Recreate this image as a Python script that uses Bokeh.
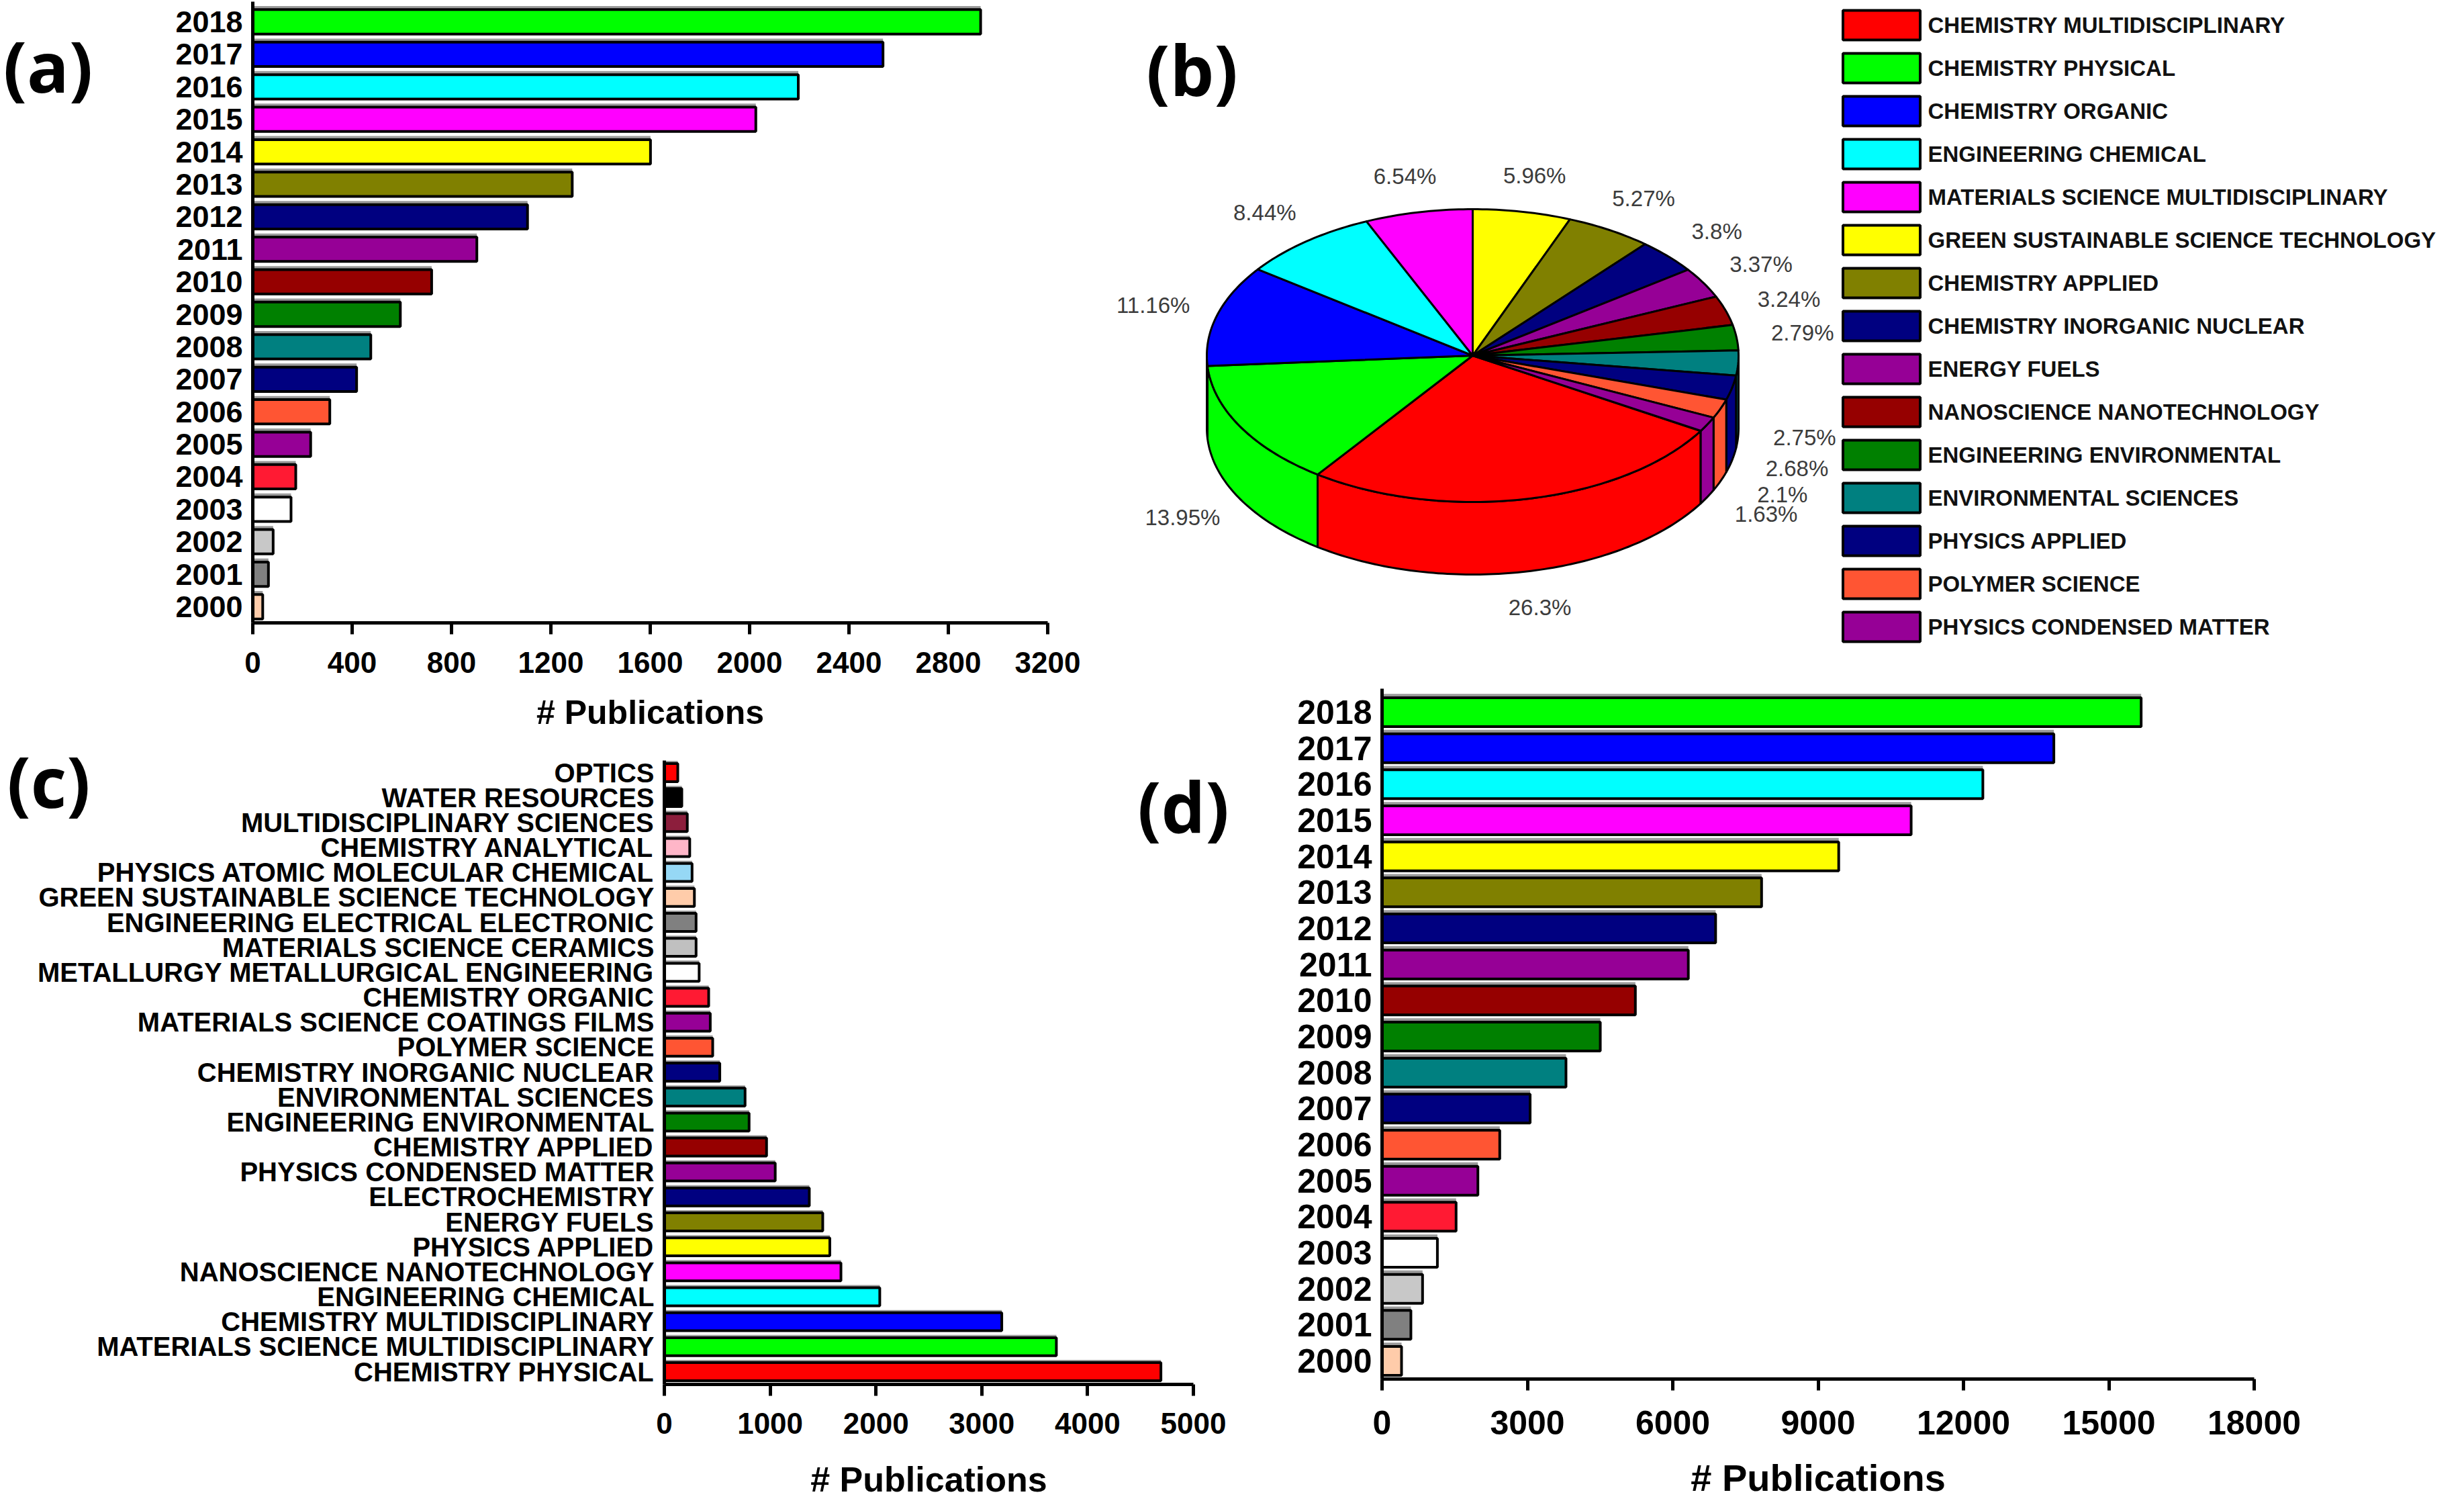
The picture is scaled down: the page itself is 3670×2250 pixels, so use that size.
import math
from bokeh.core.properties import value
from bokeh.embed import file_html
from bokeh.layouts import column, row
from bokeh.models import ColumnDataSource, FixedTicker, Range1d, SingleIntervalTicker
from bokeh.plotting import figure
from bokeh.resources import INLINE
from bokeh.transform import dodge

# ---- data (bottom of the axis first) ----
years = [str(y) for y in range(2000, 2019)]
year_colors = ["#FFCCAA", "#808080", "#C8C8C8", "#FFFFFF", "#FF1A33", "#960096",
               "#FF5533", "#000080", "#008080", "#008000", "#960000", "#960096",
               "#000080", "#808000", "#FFFF00", "#FF00FF", "#00FFFF", "#0000FF",
               "#00FF00"]
pubs_a = [40, 63, 82, 154, 173, 233, 310, 418, 475, 594, 720, 902, 1106, 1286,
          1601, 2025, 2196, 2537, 2930]
pubs_d = [402, 595, 836, 1142, 1528, 1978, 2429, 3056, 3796, 4504, 5228, 6321,
          6884, 7833, 9425, 10920, 12400, 13865, 15667]

subjects = ["CHEMISTRY PHYSICAL", "MATERIALS SCIENCE MULTIDISCIPLINARY",
            "CHEMISTRY MULTIDISCIPLINARY", "ENGINEERING CHEMICAL",
            "NANOSCIENCE NANOTECHNOLOGY", "PHYSICS APPLIED", "ENERGY FUELS",
            "ELECTROCHEMISTRY", "PHYSICS CONDENSED MATTER", "CHEMISTRY APPLIED",
            "ENGINEERING ENVIRONMENTAL", "ENVIRONMENTAL SCIENCES",
            "CHEMISTRY INORGANIC NUCLEAR", "POLYMER SCIENCE",
            "MATERIALS SCIENCE COATINGS FILMS", "CHEMISTRY ORGANIC",
            "METALLURGY METALLURGICAL ENGINEERING", "MATERIALS SCIENCE CERAMICS",
            "ENGINEERING ELECTRICAL ELECTRONIC", "GREEN SUSTAINABLE SCIENCE TECHNOLOGY",
            "PHYSICS ATOMIC MOLECULAR CHEMICAL", "CHEMISTRY ANALYTICAL",
            "MULTIDISCIPLINARY SCIENCES", "WATER RESOURCES", "OPTICS"]
subject_pubs = [4693, 3705, 3189, 2036, 1669, 1564, 1497, 1370, 1048, 966, 801, 763,
                524, 457, 434, 419, 329, 300, 300, 284, 262, 240, 217, 165, 127]
subject_colors = ["#FF0000", "#00FF00", "#0000FF", "#00FFFF", "#FF00FF", "#FFFF00",
                  "#808000", "#000080", "#960096", "#960000", "#008000", "#008080",
                  "#000080", "#FF5533", "#960096", "#FF1A33", "#FFFFFF", "#C0C0C0",
                  "#808080", "#FFCCAA", "#96D8F5", "#FFB6C8", "#8C1E3C", "#000000",
                  "#FF0000"]

pie_cats = ["CHEMISTRY MULTIDISCIPLINARY", "CHEMISTRY PHYSICAL", "CHEMISTRY ORGANIC",
            "ENGINEERING CHEMICAL", "MATERIALS SCIENCE MULTIDISCIPLINARY",
            "GREEN SUSTAINABLE SCIENCE TECHNOLOGY", "CHEMISTRY APPLIED",
            "CHEMISTRY INORGANIC NUCLEAR", "ENERGY FUELS", "NANOSCIENCE NANOTECHNOLOGY",
            "ENGINEERING ENVIRONMENTAL", "ENVIRONMENTAL SCIENCES", "PHYSICS APPLIED",
            "POLYMER SCIENCE", "PHYSICS CONDENSED MATTER"]
pie_pct = [26.3, 13.95, 11.16, 8.44, 6.54, 5.96, 5.27, 3.8, 3.37, 3.24, 2.79, 2.75,
           2.68, 2.1, 1.63]
pie_colors = ["#FF0000", "#00FF00", "#0000FF", "#00FFFF", "#FF00FF", "#FFFF00",
              "#808000", "#000080", "#960096", "#960000", "#008000", "#008080",
              "#000080", "#FF5533", "#960096"]

FONT = "Liberation Sans"
BIG = "Open Sans"
BIG_SIZE = "104px"   # "bold 100px ..." trips the svg font parser


def bare_figure(w, h, xr, yr):
    # every figure has no borders, so rows have nothing to align
    p = figure(width=w, height=h, x_range=xr, y_range=yr, toolbar_location=None,
               tools="", output_backend="svg", min_border=0,
               x_axis_location=None, y_axis_location=None)
    p.xgrid.visible = False
    p.ygrid.visible = False
    p.outline_line_color = None
    return p


def bar_panel(cats, vals, colors, origin, size, xpx, xmax, step, ypx, bar_h,
              axis_top, title_py, fonts, tick_std, letters=()):
    """Bar panel whose frame fills the figure; axes are placed inside it.
    Geometry is in page pixels of the reference picture."""
    ox, oy = origin
    w, h = size
    x0_px, x1_px = xpx
    yb_px, yt_px = ypx          # centre of bottom bar and of top bar
    n = len(cats)
    kx = xmax / (x1_px - x0_px)
    ky = (n - 1) / (yb_px - yt_px)
    X = lambda px: (px - x0_px) * kx
    Y = lambda py: (yb_px - py) * ky
    tick_fs, cat_fs, title_fs = fonts

    p = figure(width=w, height=h, x_range=Range1d(X(ox), X(ox + w)),
               y_range=Range1d(Y(oy + h), Y(oy)), toolbar_location=None, tools="",
               output_backend="svg", min_border=0)
    p.xgrid.visible = False
    p.ygrid.visible = False
    p.outline_line_color = None

    src = ColumnDataSource(dict(pos=list(range(n)), val=vals, color=colors))
    # grey drop shadow behind each bar
    p.hbar(y=dodge("pos", 0.11), right="val", height=bar_h, source=src,
           fill_color="#9a9a9a", line_color=None)
    p.hbar(y="pos", right="val", height=bar_h, source=src, fill_color="color",
           line_color="black", line_width=4)

    xa, ya = p.xaxis[0], p.yaxis[0]
    xa.fixed_location = -0.5
    xa.bounds = (0, xmax)
    xa.ticker = SingleIntervalTicker(interval=step, num_minor_ticks=0)
    xa.major_tick_out = 17
    xa.major_label_standoff = tick_std
    xa.major_label_text_font_size = f"{tick_fs}px"
    ya.fixed_location = 0
    ya.bounds = (-0.5, Y(axis_top))
    ya.ticker = FixedTicker(ticks=list(range(n)))
    ya.major_label_overrides = {i: c for i, c in enumerate(cats)}
    ya.major_tick_out = 0
    ya.major_tick_line_color = None
    ya.major_label_standoff = 15
    ya.major_label_text_font_size = f"{cat_fs}px"
    for ax in (xa, ya):
        ax.axis_line_width = 5
        ax.axis_line_color = "black"
        ax.major_tick_line_width = 5
        ax.major_tick_in = 0
        ax.minor_tick_in = 0
        ax.minor_tick_out = 0
        ax.major_label_text_font = FONT
        ax.major_label_text_font_style = "bold"
        ax.major_label_text_color = "black"

    p.text(x=[xmax / 2], y=[Y(title_py)], text=["# Publications"], text_font=value(FONT),
           text_font_style="bold", text_font_size=f"{title_fs}px", text_color="black",
           text_align="center", text_baseline="middle")
    for txt, lx, ly in letters:
        p.text(x=[X(lx)], y=[Y(ly)], text=[txt], text_font=value(BIG),
               text_font_style="bold", text_font_size=BIG_SIZE, text_color="black",
               text_align="center", text_baseline="middle")
    return p


# ---- (a) ----
pa = bar_panel(years, pubs_a, year_colors, (8, 8), (1652, 1087), (384, 1568), 3200, 400,
               (911, 40), 0.75, 10, 1068, (44, 45, 50), 26, [("(a)", 79, 105)])

# ---- (b) 3D pie, drawn in pixel-like units around the pie centre ----
cx, cy = 2201, 537
pb = bare_figure(1090, 1087, Range1d(1660 - cx, 2750 - cx), Range1d(cy - 1095, cy - 8))

rx, ry, depth = 396, 218, 108
tops_x, tops_y, sides_x, sides_y, sides_c = [], [], [], [], []
lab_x, lab_y, lab_t = [], [], []
ang = -31.0
for pct, col in zip(pie_pct, pie_colors):
    a0, a1 = ang, ang - pct * 3.6
    n = max(6, int(abs(a1 - a0)))
    arc = [math.radians(a0 + (a1 - a0) * k / n) for k in range(n + 1)]
    tops_x.append([0.0] + [rx * math.cos(t) for t in arc])
    tops_y.append([0.0] + [ry * math.sin(t) for t in arc])
    for lo, hi in ((-180.0, 0.0), (-540.0, -360.0)):
        s, e = min(a0, hi), max(a1, lo)
        if s > e:
            m = max(6, int(s - e))
            sarc = [math.radians(s + (e - s) * k / m) for k in range(m + 1)]
            xs = [rx * math.cos(t) for t in sarc]
            ys = [ry * math.sin(t) for t in sarc]
            sides_x.append(xs + xs[::-1])
            sides_y.append(ys + [y - depth for y in ys[::-1]])
            sides_c.append(col)
    mid = math.radians((a0 + a1) / 2)
    lab_x.append(1.25 * rx * math.cos(mid))
    lab_y.append(1.25 * ry * math.sin(mid) - (depth if math.sin(mid) < 0 else 0))
    lab_t.append(f"{pct}%")
    ang = a1

pb.patches(xs="xs", ys="ys", source=ColumnDataSource(dict(xs=sides_x, ys=sides_y, c=sides_c)),
           fill_color="c", line_color="black", line_width=3, line_join="round")
pb.patches(xs="xs", ys="ys", source=ColumnDataSource(dict(xs=tops_x, ys=tops_y, c=pie_colors)),
           fill_color="c", line_color="black", line_width=3, line_join="round")
pb.text(x="x", y="y", text="t", source=ColumnDataSource(dict(x=lab_x, y=lab_y, t=lab_t)),
        text_font=value(FONT), text_font_size="33px", text_color="#3c3c3c",
        text_align="center", text_baseline="middle")
pb.text(x=[1783 - cx], y=[cy - 110], text=["(b)"], text_font=value(BIG),
        text_font_style="bold", text_font_size=BIG_SIZE, text_align="center",
        text_baseline="middle")

# ---- (b) legend, page-pixel units with y pointing down ----
pl = bare_figure(912, 1087, Range1d(2750, 3662), Range1d(1095, 8))
row_y = [45 + 64 * i for i in range(len(pie_cats))]
lsrc = ColumnDataSource(dict(cat=pie_cats, color=pie_colors, y=row_y))
pl.rect(x=2810, y="y", width=115, height=44, source=lsrc, fill_color="color",
        line_color="black", line_width=4)
pl.text(x=2879, y="y", text="cat", source=lsrc, text_font=value(FONT),
        text_font_style="bold", text_font_size="33px", text_color="#111111",
        text_baseline="middle")

# ---- (c) ----
pc = bar_panel(subjects, subject_pubs, subject_colors, (8, 1095), (1842, 1146), (997, 1785),
               5000, 1000, (2050, 1158), 0.72, 1140, 2210, (44, 40, 52), 26,
               [("(c)", 80, 1170), ("(d)", 1770, 1207)])

# ---- (d) ----  (pulled up under the legend, where the top row is empty)
pd_ = bar_panel(years, pubs_d, year_colors, (1850, 1030), (1812, 1211), (2066, 3365),
                18000, 3000, (2034, 1068), 0.8, 1033, 2208, (50, 50, 56), 31)
pd_.margin = (-65, 0, 0, 0)

layout = column(row(pa, pb, pl, spacing=0), row(pc, pd_, spacing=0), spacing=0)

open("out.html", "w").write(file_html(layout, INLINE))
